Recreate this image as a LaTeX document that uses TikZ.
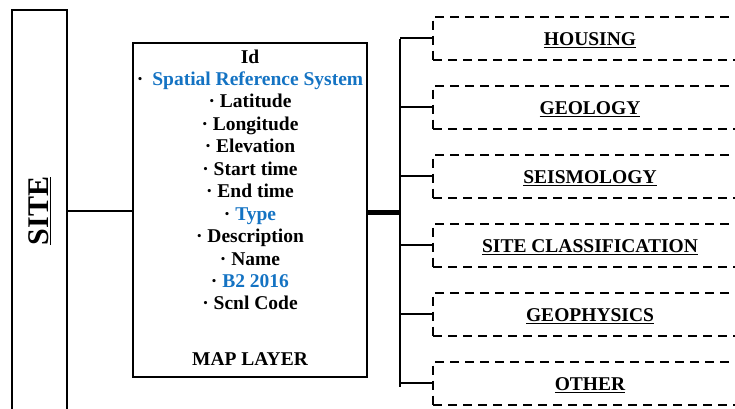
\documentclass[tikz,border=0pt]{standalone}
\usepackage{fontspec}
\setmainfont{Liberation Serif}
\definecolor{refblue}{RGB}{20,115,195}
\begin{document}
\begin{tikzpicture}[x=1pt,y=-1pt,
  sitebox/.style={draw, line width=2.2pt, minimum width=55pt, minimum height=402pt, inner sep=0pt},
  mapbox/.style={draw, line width=2.2pt, minimum width=234pt, minimum height=334pt, inner sep=0pt},
  catbox/.style={draw, line width=2pt, dash pattern=on 9pt off 6pt, minimum width=314pt, minimum height=43pt, inner sep=0pt},
  itemtext/.style={font=\fontsize{19.5}{22}\selectfont\bfseries, inner sep=0pt, anchor=base},
  conn/.style={line width=2.2pt},
  thickconn/.style={line width=5pt}]
\useasboundingbox (0,0) rectangle (735,408);

\node[sitebox] (site) at (39.5,211) {};
\node[font=\fontsize{30}{32}\selectfont\bfseries, rotate=90, inner sep=0pt] (sitelabel) at (40,211) {\underline{SITE}};

\node[mapbox] (map) at (250,210) {};
\foreach \txt [count=\i from 0] in {
  {Id},
  {\textperiodcentered\hspace{9pt}\textcolor{refblue}{Spatial Reference System}},
  {\textperiodcentered\ Latitude},
  {\textperiodcentered\ Longitude},
  {\textperiodcentered\ Elevation},
  {\textperiodcentered\ Start time},
  {\textperiodcentered\ End time},
  {\textperiodcentered\ \textcolor{refblue}{Type}},
  {\textperiodcentered\ Description},
  {\textperiodcentered\ Name},
  {\textperiodcentered\ \textcolor{refblue}{B2 2016}},
  {\textperiodcentered\ Scnl Code}}
  \node[itemtext] (item\i) at (250,{63+22.45*\i}) {\txt};
\node[itemtext] (maplabel) at (250,365) {MAP LAYER};

\coordinate (bt) at (400,39);
\coordinate (bb) at (400,387);
\draw[conn] (bt) -- (bb);

\foreach \lab [count=\i from 0] in {HOUSING, GEOLOGY, SEISMOLOGY, SITE CLASSIFICATION, GEOPHYSICS, OTHER} {
  \node[catbox] (cat\i) at (590,{38+69*\i}) {};
  \node[itemtext] (catlabel\i) at (590,{45.5+69*\i}) {\underline{\lab}};
  \draw[conn] (cat\i.west -| bt) -- (cat\i.west);
}

\draw[conn] (site.east) -- (site.east -| map.west);
\draw[thickconn] ([yshift=-2pt]map.east) -- ([yshift=-2pt]map.east -| bt);
\end{tikzpicture}
\end{document}
